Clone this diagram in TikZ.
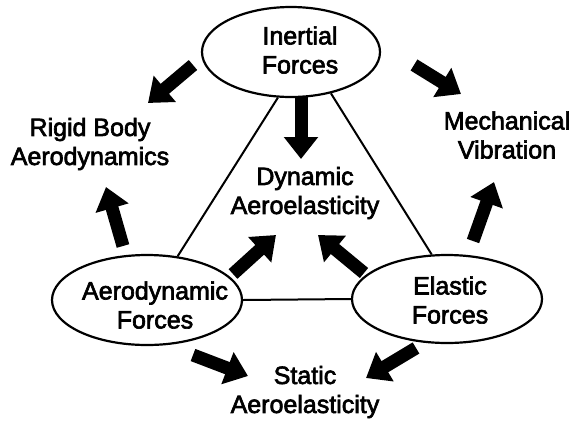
\documentclass[tikz,border=0pt]{standalone}
\usepackage{fontspec}
\setmainfont{Liberation Sans}
\newfontfamily\labfont[FakeBold=2.6]{Liberation Sans}
\usetikzlibrary{shapes.geometric,arrows.meta}
\tikzset{
  oval/.style={ellipse, draw=black, line width=2.2pt, inner sep=0pt},
  txt/.style={align=center, inner sep=0pt, font=\labfont\fontsize{25}{29}\selectfont},
  tri/.style={line width=2pt},
  bigarrow/.style={line width=13pt, -{Triangle[length=22pt,width=33pt]}, shorten >=0pt}
}
\begin{document}
\begin{tikzpicture}[x=1pt,y=-1pt]
\useasboundingbox (0,0) rectangle (575,429);
% ellipses
\node[oval, minimum width=178pt, minimum height=90pt] (in) at (291,52) {};
\node[oval, minimum width=190pt, minimum height=90pt] (aero) at (147,300) {};
\node[oval, minimum width=190pt, minimum height=88pt] (el) at (447,299) {};
% texts
\node[txt] (inT) at (300,50) {Inertial\\Forces};
\node[txt] (aeroT) at (155,305) {Aerodynamic\\Forces};
\node[txt] (elT) at (450,300) {Elastic\\Forces};
\node[txt] (dyn) at (305,193) {Dynamic\\Aeroelasticity};
\node[txt] (rigid) at (90,144) {Rigid Body\\Aerodynamics};
\node[txt] (mech) at (507,135) {Mechanical\\Vibration};
\node[txt] (stat) at (305,392) {Static\\Aeroelasticity};
% triangle lines
\draw[tri] (in.254) -- (aero.55);
\draw[tri] (in.314) -- (el.109);
\draw[tri] (aero.east) -- (el.west);
% arrow end points
\coordinate (a1s) at (193,65);  \coordinate (a1e) at (148,103);
\coordinate (a2s) at (301,97);  \coordinate (a2e) at (301,159);
\coordinate (a3s) at (414,65);  \coordinate (a3e) at (461,94);
\coordinate (a4s) at (123,246); \coordinate (a4e) at (106,187);
\coordinate (a5s) at (233,274); \coordinate (a5e) at (276,235);
\coordinate (a6s) at (364,273); \coordinate (a6e) at (318,235);
\coordinate (a7s) at (473,241); \coordinate (a7e) at (494,182);
\coordinate (a8s) at (193,355); \coordinate (a8e) at (248,376);
\coordinate (a9s) at (416,348); \coordinate (a9e) at (366,378);
\draw[bigarrow] (a1s) -- (a1e);
\draw[bigarrow] (a2s) -- (a2e);
\draw[bigarrow] (a3s) -- (a3e);
\draw[bigarrow] (a4s) -- (a4e);
\draw[bigarrow] (a5s) -- (a5e);
\draw[bigarrow] (a6s) -- (a6e);
\draw[bigarrow] (a7s) -- (a7e);
\draw[bigarrow] (a8s) -- (a8e);
\draw[bigarrow] (a9s) -- (a9e);
\end{tikzpicture}
\end{document}
